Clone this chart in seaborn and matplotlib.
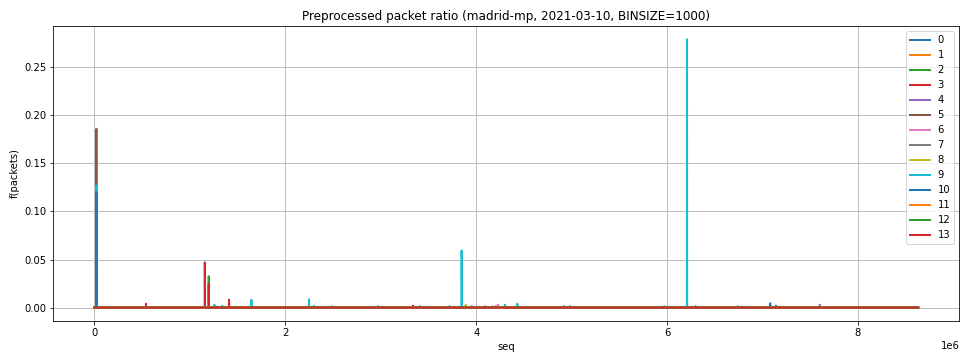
import numpy as np
import pandas as pd
import matplotlib
matplotlib.use("Agg")
import matplotlib.pyplot as plt
import seaborn as sns

# Binned sequence axis (BINSIZE = 1000) and series ids
BINSIZE = 1000
SEQ_END = 8_630_000
series_ids = list(range(14))

# Non-zero bins: sequence position, series id, packet ratio
spike_seq = [20000, 20000, 20000, 540000, 1156000, 1197000, 1197000, 1257000,
             1340000, 1410000, 1644000, 2248000, 2300000, 2485000, 2970000,
             3337000, 3410000, 3720000, 3847000, 3890000, 3890000, 3955000,
             4094000, 4170000, 4205000, 4230000, 4300000, 4430000, 4920000,
             4980000, 5970000, 6208000, 6300000, 6740000, 7080000, 7140000,
             7600000]
spike_series = [5, 9, 10, 3, 3, 2, 3, 9,
                9, 3, 9, 9, 9, 9, 9,
                3, 9, 10, 9, 8, 3, 10,
                10, 6, 6, 6, 9, 9, 10,
                10, 9, 9, 10, 9, 10, 10,
                4]
spike_value = [0.186, 0.127, 0.120, 0.004, 0.047, 0.0326, 0.0247, 0.003,
               0.002, 0.0083, 0.008, 0.0087, 0.002, 0.0015, 0.0015,
               0.002, 0.0015, 0.0015, 0.0594, 0.003, 0.002, 0.0015,
               0.0015, 0.0015, 0.002, 0.003, 0.003, 0.004, 0.0015,
               0.0015, 0.0015, 0.279, 0.0015, 0.0015, 0.0045, 0.002,
               0.003]

seq = np.arange(0, SEQ_END + BINSIZE, BINSIZE)
ratio = pd.DataFrame(0.0, index=pd.Index(seq, name="seq"), columns=series_ids)
for s, k, v in zip(spike_seq, spike_series, spike_value):
    ratio.loc[s, k] = v

W, H, DPI = 966, 357, 72
fig = plt.figure(figsize=(W / DPI, H / DPI), dpi=DPI)
ax = fig.add_axes([53.3 / W, 1 - 321 / H, (959.3 - 53.3) / W, (321 - 26) / H])

sns.lineplot(data=ratio, ax=ax, palette=sns.color_palette("tab10", 14),
             dashes=False, estimator=None, linewidth=2)

ax.grid(True)
ax.set_axisbelow(True)
ax.set_title("Preprocessed packet ratio (madrid-mp, 2021-03-10, BINSIZE=1000)",
             fontsize=12)
ax.set_xlabel("seq")
ax.set_ylabel("f(packets)")
ax.legend(loc="upper right")

fig.savefig("out.png", dpi=DPI)
